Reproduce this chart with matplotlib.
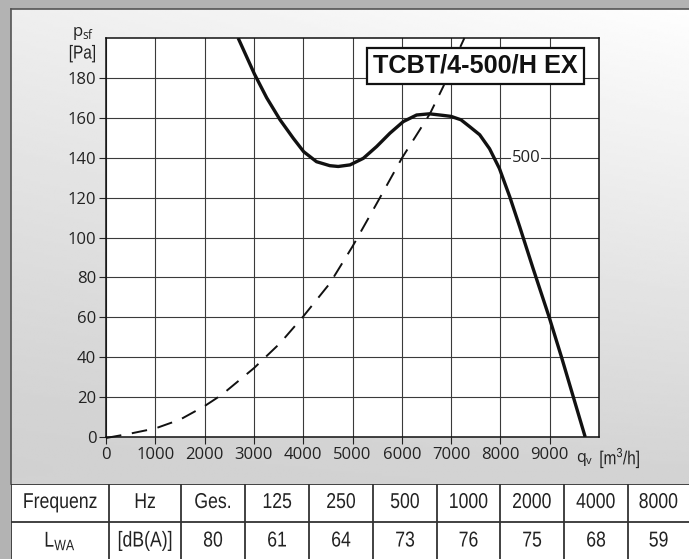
import numpy as np
import matplotlib
matplotlib.use("Agg")
import matplotlib.pyplot as plt
import matplotlib.patheffects as pe
from matplotlib.patches import Rectangle
from matplotlib.transforms import Affine2D

# ---- data ----
fan_q = [2680, 3010, 3260, 3530, 3800, 4010, 4270, 4540, 4710, 4950, 5220,
         5490, 5760, 6030, 6300, 6560, 6840, 7000, 7200, 7380, 7580, 7780,
         7980, 8190, 8390, 8660, 8990, 9240, 9480, 9720]
fan_p = [200, 182, 170, 159, 149.7, 143, 138, 136, 135.6, 136.4, 139.7,
         145.6, 152.3, 158.1, 161.4, 162, 161.2, 160.7, 159, 155.5, 151.5, 144.5,
         134.6, 120.4, 105.5, 84.7, 60, 40, 20, 0]

sys_q = [0, 490, 1000, 1500, 2000, 2350, 3000, 3530, 4000, 4540, 5000,
         5490, 6000, 6570, 6840, 7190, 7270]
sys_p = [-0.5, 1.7, 4.3, 8.7, 15.5, 21.2, 34.5, 47, 60.4, 77, 95.5,
         117, 139.7, 162, 175.6, 195.7, 200]

curve_label = "500"
model = "TCBT/4-500/H EX"

freq_head = ["Frequenz", "Hz", "Ges.", "125", "250", "500", "1000", "2000", "4000", "8000"]
lwa_row = [r"L$_\mathregular{WA}$", "[dB(A)]", "80", "61", "64", "73", "76", "75", "68", "59"]

W, H = 689, 559
sans = ["Liberation Sans", "DejaVu Sans"]
tickfont = ["Open Sans", "DejaVu Sans"]
ink = "#222222"


class Condense(pe.AbstractPathEffect):
    """squeeze glyphs horizontally around their centre (no narrow font installed)"""

    def __init__(self, sx=0.82):
        super().__init__()
        self.sx = sx

    def draw_path(self, renderer, gc, tpath, affine, rgbFace=None):
        ext = tpath.get_extents(affine)
        cx = 0.5 * (ext.x0 + ext.x1)
        squeeze = Affine2D().translate(-cx, 0).scale(self.sx, 1).translate(cx, 0)
        renderer.draw_path(gc, tpath, affine + squeeze, rgbFace)


narrow_fx = [Condense(0.82)]

fig = plt.figure(figsize=(W / 100, H / 100), dpi=100)
fig.patch.set_facecolor("#b3b3b3")


def px_axes(x0, y0, x1, y1, **kw):
    # pixel box (top-left origin) -> figure axes
    return fig.add_axes([x0 / W, 1 - y1 / H, (x1 - x0) / W, (y1 - y0) / H], **kw)


# ---- background panel with soft gradient ----
bg = px_axes(11, 9, W, 484)
ty = np.linspace(0, 1, 200)[:, None]
tx = np.linspace(0, 1, 200)[None, :]
shade = 0.995 - 0.17 * ty - 0.06 * (1 - tx) * (1 - ty) ** 0.5
bg.imshow(np.clip(shade, 0, 1), cmap="gray", vmin=0, vmax=1, aspect="auto",
          extent=[0, 1, 0, 1], interpolation="bilinear")
bg.set_xticks([])
bg.set_yticks([])
for s in bg.spines.values():
    s.set_color("#555555")
    s.set_linewidth(1.2)
bg.spines["right"].set_visible(False)
bg.spines["bottom"].set_visible(False)

# ---- main chart ----
ax = px_axes(106, 38, 599, 437)
ax.set_facecolor("white")
ax.set_xlim(0, 10000)
ax.set_ylim(0, 200)
ax.set_xticks(range(0, 10000, 1000))
ax.set_yticks(range(0, 200, 20))
ax.grid(True, color="#3a3a3a", linewidth=0.8)
ax.set_axisbelow(True)
for s in ax.spines.values():
    s.set_color("#111111")
    s.set_linewidth(1.1)
ax.tick_params(direction="out", length=5, width=0.8, color="#222222",
               pad=2, labelsize=12, labelcolor=ink)
for lab in ax.get_xticklabels() + ax.get_yticklabels():
    lab.set_family(tickfont)

ax.plot(sys_q, sys_p, color="#111111", linewidth=1.4,
        linestyle=(0, (8, 5.5)), clip_on=False, zorder=3)
ax.plot(fan_q, fan_p, color="#111111", linewidth=2.4,
        solid_joinstyle="round", solid_capstyle="butt", zorder=4)

ax.text(8520, 140, curve_label, ha="center", va="center", fontsize=12,
        family=tickfont, color=ink, zorder=5,
        bbox=dict(facecolor="white", edgecolor="none", pad=0.5))

ax.text(7500, 186, model, ha="center", va="center", fontsize=18.2,
        fontweight="bold", family=sans, color="#111111",
        zorder=6, bbox=dict(boxstyle="square,pad=0.25", facecolor="white",
                            edgecolor="#111111", linewidth=1.6))

# axis unit labels
fig.text(94 / W, 1 - 34 / H, r"p$_\mathregular{sf}$", ha="right", va="center",
         fontsize=12, family=tickfont, color=ink)
fig.text(82.5 / W, 1 - 54 / H, "[Pa]", ha="center", va="center",
         fontsize=13.5, family=sans, color=ink, path_effects=narrow_fx)
fig.text(576 / W, 1 - 460 / H, r"q$_\mathregular{v}$", ha="left", va="center",
         fontsize=11.5, family=tickfont, color=ink)
fig.text(620 / W, 1 - 458 / H, r"[m$^\mathregular{3}$/h]", ha="center", va="center",
         fontsize=13.5, family=sans, color=ink, path_effects=narrow_fx)

# ---- sound table ----
col_edges = [0, 98, 170, 234, 298, 362, 426, 489, 553, 617, 678]
tb = px_axes(11, 484, W, H)
tb.set_xlim(0, 678)
tb.set_ylim(0, 75)
tb.axis("off")
tb.add_patch(Rectangle((0, 0), 678, 75, facecolor="white", edgecolor="none"))
line_kw = dict(color="#333333", linewidth=1.3)
tb.plot([0, 678], [75, 75], **line_kw)
tb.plot([0, 678], [37.5, 37.5], **line_kw)
for xe in col_edges[:-1]:
    tb.plot([xe, xe], [0, 75], **line_kw)
for i in range(len(freq_head)):
    xc = (col_edges[i] + col_edges[i + 1]) / 2
    tb.text(xc, 56.5, freq_head[i], ha="center", va="center", fontsize=15.5,
            family=sans, color=ink, path_effects=narrow_fx)
    tb.text(xc, 18, lwa_row[i], ha="center", va="center", fontsize=15.5,
            family=sans, color=ink, path_effects=narrow_fx)

fig.savefig("out.png", dpi=100, facecolor=fig.get_facecolor())
